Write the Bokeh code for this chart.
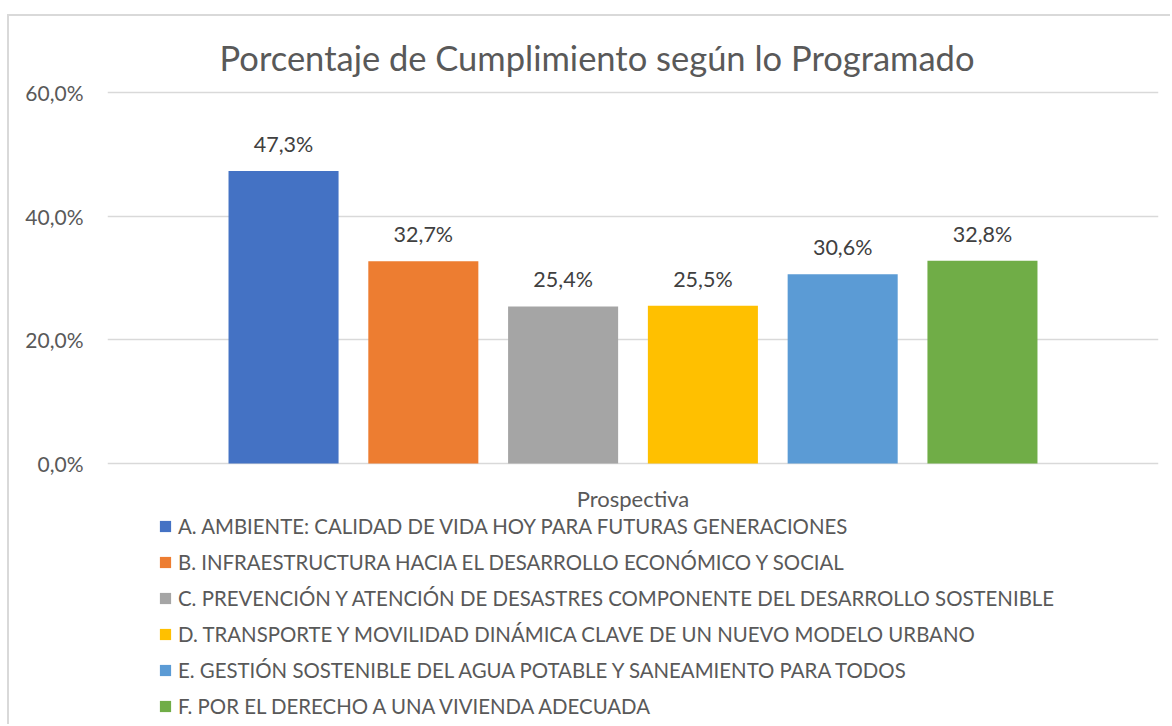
from bokeh.plotting import figure
from bokeh.models import (ColumnDataSource, FixedTicker, Legend, LegendItem, Label,
                          Range1d, FactorRange)
from bokeh.transform import dodge
from bokeh.core.properties import value
from bokeh.embed import file_html
from bokeh.resources import INLINE

# ---------------- data ----------------
title_text = "Porcentaje de Cumplimiento según lo Programado"
category = "Prospectiva"
series_names = [
    "A. AMBIENTE: CALIDAD DE VIDA HOY PARA FUTURAS GENERACIONES",
    "B. INFRAESTRUCTURA HACIA EL DESARROLLO ECONÓMICO Y SOCIAL",
    "C. PREVENCIÓN Y ATENCIÓN DE DESASTRES COMPONENTE DEL DESARROLLO SOSTENIBLE",
    "D. TRANSPORTE Y MOVILIDAD DINÁMICA CLAVE DE UN NUEVO MODELO URBANO",
    "E. GESTIÓN SOSTENIBLE DEL AGUA POTABLE Y SANEAMIENTO PARA TODOS",
    "F. POR EL DERECHO A UNA VIVIENDA ADECUADA",
]
series_values = [47.3, 32.7, 25.4, 25.5, 30.6, 32.8]
series_colors = ["#4472C4", "#ED7D31", "#A5A5A5", "#FFC000", "#5B9BD5", "#70AD47"]
y_ticks = [0, 20, 40, 60]

FONT = "Lato"
TXT = "#595959"
LBL = "#404040"
GRID = "#D9D9D9"

STEP = 0.133   # distance between neighbouring bars (category units)
BAR_W = 0.1047

# vertical layout: 0 % at 447 px and 60 % at 76 px from the top of a 710 px canvas
H = 710
Y0_PX, Y60_PX = 447, 76
PX_PER_UNIT = (Y0_PX - Y60_PX) / 60.0
Y_TOP = 60 + Y60_PX / PX_PER_UNIT
Y_BOTTOM = -(H - Y0_PX) / PX_PER_UNIT

def pct(v):
    return f"{v:.1f}%".replace(".", ",")

p = figure(width=1163, height=H, title=None,
           x_range=FactorRange(factors=[category]),
           y_range=Range1d(Y_BOTTOM, Y_TOP),
           output_backend="svg", toolbar_location=None,
           min_border_left=98, min_border_right=14,
           min_border_top=0, min_border_bottom=0)
p.margin = (14, 0, 0, 7)
p.styles = {"border-top": "2px solid #D9D9D9", "border-left": "2px solid #D9D9D9"}
p.outline_line_color = None
p.background_fill_color = "white"
p.border_fill_color = "white"

n = len(series_values)
items = []
for i in range(n):
    src = ColumnDataSource(dict(x=[category], top=[series_values[i]],
                                label=[pct(series_values[i])]))
    off = (i - (n - 1) / 2) * STEP
    r = p.vbar(x=dodge("x", off, range=p.x_range), top="top", bottom=0, width=BAR_W,
               source=src, fill_color=series_colors[i], line_color=None)
    p.text(x=dodge("x", off, range=p.x_range), y="top", text="label", source=src,
           text_align="center", text_baseline="alphabetic", y_offset=-27,
           text_font=value(FONT), text_font_size="21.5px", text_color=LBL)
    items.append(LegendItem(label=series_names[i], renderers=[r]))

# grid
p.xgrid.visible = False
p.ygrid.ticker = FixedTicker(ticks=y_ticks)
p.ygrid.grid_line_color = GRID
p.ygrid.grid_line_width = 1.3

# y axis
p.yaxis.ticker = FixedTicker(ticks=y_ticks)
p.yaxis.major_label_overrides = {t: pct(t) for t in y_ticks}
p.yaxis.axis_line_color = None
p.yaxis.major_tick_line_color = None
p.yaxis.minor_tick_line_color = None
p.yaxis.major_tick_out = 0
p.yaxis.major_label_standoff = 24
p.yaxis.major_label_text_font = FONT
p.yaxis.major_label_text_font_size = "21px"
p.yaxis.major_label_text_color = TXT

# x axis: category name written under the baseline
p.xaxis.visible = False
p.add_layout(Label(x=0.5, y=0, y_offset=-35, text=category,
                   text_align="center", text_baseline="alphabetic",
                   text_font=FONT, text_font_size="22px", text_color=TXT))

# title
p.add_layout(Label(x=0.5, y=60, x_offset=-36, y_offset=35, text=title_text,
                   text_align="center", text_baseline="alphabetic",
                   text_font=FONT, text_font_size="34.5px", text_color=TXT))

# legend
legend = Legend(items=items, location=(51, 8), orientation="vertical",
                glyph_width=14, glyph_height=14, label_standoff=6,
                label_height=25, spacing=11, padding=0, margin=0,
                border_line_color=None, background_fill_alpha=0,
                label_text_font=FONT, label_text_font_size="20.4px",
                label_text_color=TXT)
p.add_layout(legend)

open("out.html", "w").write(file_html(p, INLINE))
